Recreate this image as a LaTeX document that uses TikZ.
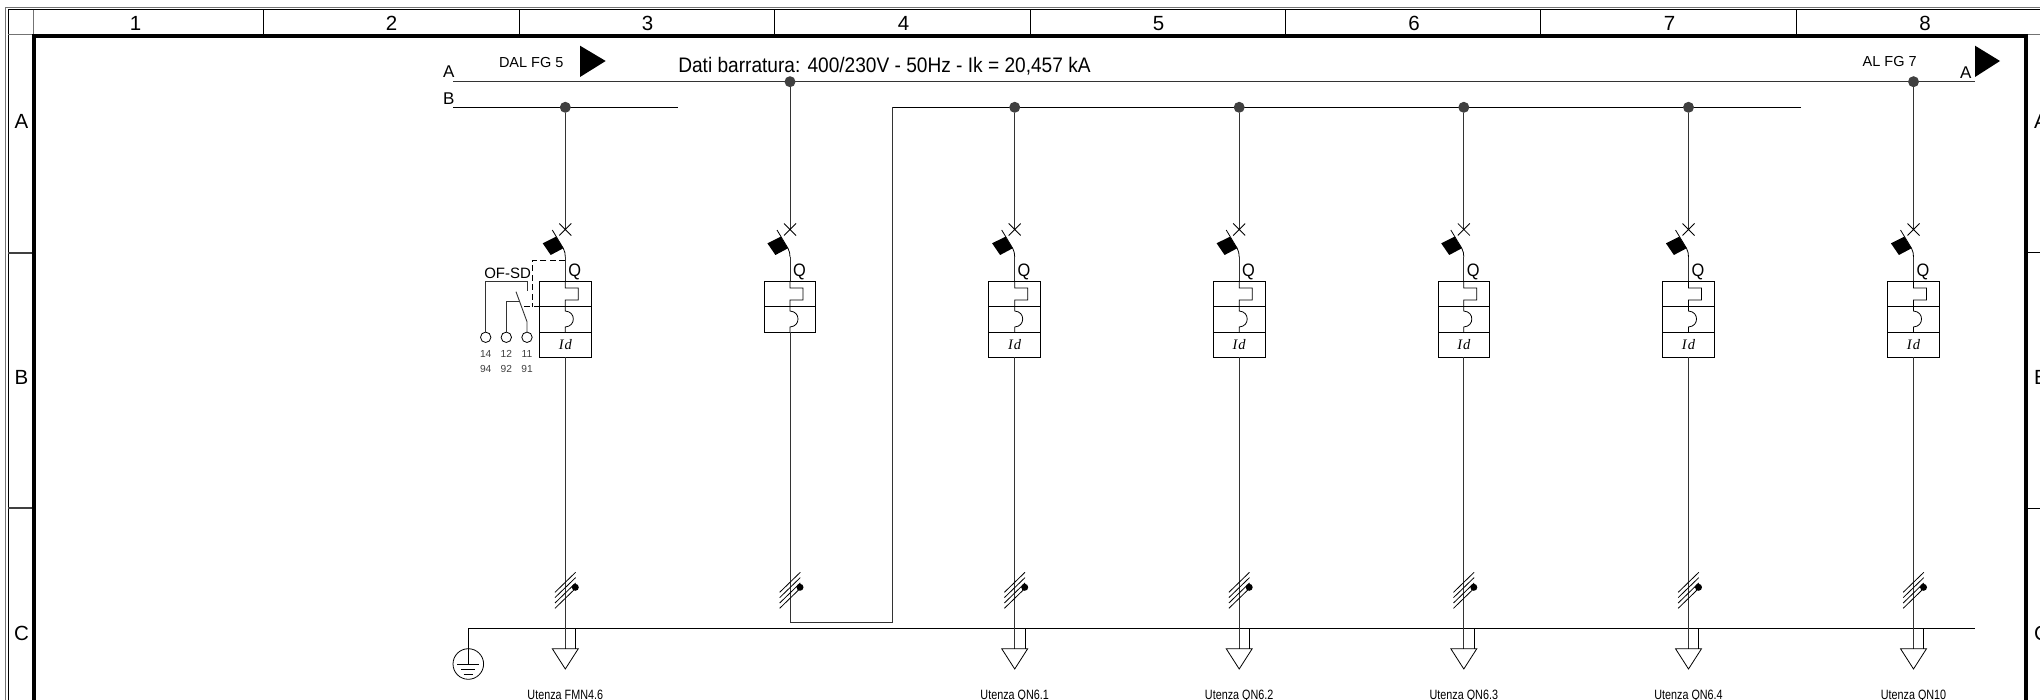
\documentclass[tikz,border=0pt]{standalone}
\usepackage{fontspec}
\setmainfont{Liberation Sans}
\newfontfamily\narrowf[FakeStretch=0.91]{Liberation Sans}
\newfontfamily\narrowu[FakeStretch=0.8]{Liberation Sans}
\newfontfamily\idf{Liberation Serif}
\newcommand{\fsz}[1]{\fontsize{#1}{#1}\selectfont}
\tikzset{
  wire/.style={draw=black!80,line width=0.9pt},
  thinw/.style={draw=black,line width=0.8pt},
  framew/.style={draw=black,line width=1pt},
  greyw/.style={draw=black!55,line width=1pt},
  rowtick/.style={draw=black!75,line width=1.8pt},
  busdot/.style={circle,fill=black!75,inner sep=0pt,minimum size=11pt,outer sep=0pt},
  bkbox/.style={rectangle,draw=black,line width=0.9pt,minimum width=51.6pt,inner sep=0pt,outer sep=0pt},
  termc/.style={circle,draw=black,line width=0.8pt,fill=white,minimum size=10.4pt,inner sep=0pt,outer sep=0pt},
  lbl/.style={inner sep=0pt,outer sep=0pt,anchor=base},
  lblw/.style={inner sep=0pt,outer sep=0pt,anchor=base west},
  hdr/.style={lbl,font=\fsz{20.5}},
  bus/.style={lblw,font=\fsz{17}},
  small/.style={lbl,font=\fsz{10.2},text=black!75},
  util/.style={lbl,font=\narrowu\fsz{13.5}},
}
\newcommand{\breaker}[4]{% id, x, bus y, box height
\begin{scope}[shift={(#2,0)}]
  \node[busdot] (dot#1) at (0,#3) {};
  \coordinate (xm#1) at (0,229.5);
  \coordinate (ct#1) at (0,257);
  \draw[wire] (dot#1) -- (xm#1);
  \draw[thinw] (-6,223.5) -- (6,235.5) (-6,235.5) -- (6,223.5);
  \fill[black] (-22.6,243.3) -- (-9.3,236.7) -- (-2,248.3) -- (-14.6,255) -- cycle;
  \draw[thinw] (-13,230) -- (-2,248.3) .. controls (-0.5,251) and (0,254) .. (ct#1);
  \node[lblw,font=\narrowf\fsz{18}] (q#1) at (3,277) {Q};
  \node[bkbox,minimum height=#4pt,anchor=north] (box#1) at (0,281) {};
  \draw[wire] (ct#1) -- (box#1.north);
  \draw[black,line width=1.4pt] (-25.8,306.7) -- (25.8,306.7);
  \draw[thinw] (box#1.north) -- (0,288) -- (13,288) -- (13,300) -- (0,300) -- (0,311)
     .. controls (5.5,311.5) and (8,315) .. (8,319) .. controls (8,323) and (5.5,326.5) .. (0,327) -- (0,332.3);
\end{scope}}
\newcommand{\idpart}[2]{% id, x
  \draw[thinw] (#2-25.8,332.3) -- (#2+25.8,332.3);
  \node[lbl,font=\idf\itshape\fsz{14.5}] (id#1) at (#2,349.3) {I\kern1pt d};
}
\newcommand{\ticks}[2]{% id, x
\begin{scope}[shift={(#2,0)}]
  \foreach \yy in {582.3,587.6,593,598.3}
    \draw[thinw] (-10.3,\yy+10) -- (10.3,\yy-10);
  \fill[black] (10,587.3) circle (3.5pt);
\end{scope}}
\newcommand{\load}[3]{% id, x, label
\begin{scope}[shift={(#2,0)}]
  \coordinate (lt#1) at (0,648.7);
  \coordinate (lr#1) at (10.3,648.7);
  \coordinate (ln#1) at (10.3,628.3);
  \draw[wire] (box#1.south) -- (lt#1);
  \draw[thinw] (ln#1) -- (lr#1);
  \draw[thinw,line join=miter] (-13,648.7) -- (13,648.7) -- (0,669) -- cycle;
  \node[util] (u#1) at (0,699) {#3};
\end{scope}}
\begin{document}
\begin{tikzpicture}[x=1pt,y=-1pt]
\clip (0,0) rectangle (2040,700);
\path[fill=white] (0,0) rectangle (2040,700);
% sheet frame
\draw[greyw] (5.5,700) -- (5.5,7.5) -- (2040,7.5);
\draw[framew] (8.3,700) -- (8.3,10) -- (2040,10);
\draw[greyw] (8.3,35) -- (33.5,35);
\draw[greyw] (2027,35) -- (2040,35);
\draw[greyw] (33.5,10) -- (33.5,35);
\foreach \xx in {263.5,519.3,774.6,1030,1285.3,1540.8,1796.3}
  \draw[framew] (\xx,10) -- (\xx,35);
\draw[rowtick] (8.3,252.7) -- (33.5,252.7);
\draw[rowtick] (8.3,508) -- (33.5,508);
\draw[framew] (2027,252.7) -- (2040,252.7);
\draw[framew] (2027,508) -- (2040,508);
\draw[black,line width=4.4pt] (34,700) -- (34,36) -- (2026,36) -- (2026,700);
% grid labels
\foreach \cc/\xx in {1/135.5,2/391.5,3/647.5,4/903.5,5/1158.5,6/1414,7/1669.5,8/1925}
  \node[hdr] (col\cc) at (\xx,30.7) {\cc};
\foreach \rr/\yy in {A/129,B/384.5,C/640}
  \node[hdr] (rowl\rr) at (21.5,\yy) {\rr};
\foreach \rr/\yy in {A/129,B/384.5,C/640}
  \node[lblw,font=\fsz{20.5}] (rowr\rr) at (2034,\yy) {\rr};
% busbars
\coordinate (aw) at (453,81.7);
\coordinate (ae) at (1975,81.7);
\coordinate (bw) at (453,107.3);
\coordinate (be) at (678,107.3);
\coordinate (cw) at (1801,107.3);
\coordinate (cbend) at (892,107.3);
\coordinate (dbend) at (892,622.7);
\coordinate (ebend) at (790,622.7);
\coordinate (nw) at (468.3,628.3);
\coordinate (ne) at (1975,628.3);
\draw[wire] (aw) -- (ae);
\draw[thinw] (bw) -- (be);
\draw[thinw] (nw) -- (ne);
\draw[thinw] (cw) -- (cbend);
\draw[wire] (cbend) -- (dbend) -- (ebend);
\node[bus] (lA) at (443,78) {A};
\node[bus] (lB) at (443,105) {B};
\node[bus] (lA2) at (1960,78.5) {A};
\node[lblw,font=\fsz{14.5}] (dal) at (499,67.3) {DAL FG 5};
\node[lblw,font=\fsz{14.5}] (alfg) at (1862.7,66.7) {AL FG 7};
\fill[black] (580,45.7) -- (605.7,61) -- (580,77) -- cycle;
\fill[black] (1975,45.7) -- (2000,61) -- (1975,77) -- cycle;
\node[lblw,font=\narrowf\fsz{21}] (dati) at (678.3,72.3) {Dati barratura: 400/230V - 50Hz - Ik = 20,457 kA};
% feeders
\breaker{1}{565.3}{107.3}{76.3}
\breaker{2}{790}{81.7}{51.3}
\breaker{3}{1014.7}{107.3}{76.3}
\breaker{4}{1239.2}{107.3}{76.3}
\breaker{5}{1463.8}{107.3}{76.3}
\breaker{6}{1688.5}{107.3}{76.3}
\breaker{7}{1913.5}{81.7}{76.3}
\idpart{1}{565.3}
\idpart{3}{1014.7}
\idpart{4}{1239.2}
\idpart{5}{1463.8}
\idpart{6}{1688.5}
\idpart{7}{1913.5}
\draw[wire] (box2.south) -- (ebend);
\load{1}{565.3}{Utenza FMN4.6}
\load{3}{1014.7}{Utenza QN6.1}
\load{4}{1239.2}{Utenza QN6.2}
\load{5}{1463.8}{Utenza QN6.3}
\load{6}{1688.5}{Utenza QN6.4}
\load{7}{1913.5}{Utenza QN10}
\ticks{1}{565.3}
\ticks{2}{790}
\ticks{3}{1014.7}
\ticks{4}{1239.2}
\ticks{5}{1463.8}
\ticks{6}{1688.5}
\ticks{7}{1913.5}
% earth
\node[circle,draw=black,line width=0.8pt,minimum size=30.6pt,inner sep=0pt] (earth) at (468.3,664) {};
\coordinate (ec) at (468.3,664);
\draw[thinw] (nw) -- (ec);
\draw[thinw] (457.3,664) -- (479.3,664) (461.3,669) -- (475.3,669) (463.6,674) -- (473,674);
% auxiliary contact OF-SD
\node[lblw,font=\fsz{15}] (ofsd) at (484.3,279) {OF-SD};
\node[termc] (t14) at (485.7,337.3) {};
\node[termc] (t12) at (506.3,337.3) {};
\node[termc] (t11) at (527,337.3) {};
\coordinate (p14a) at (485.7,281);
\coordinate (p14b) at (527,281);
\coordinate (p14c) at (527,291);
\coordinate (p12a) at (506.3,301.3);
\coordinate (p12b) at (519,301.3);
\coordinate (p11a) at (527,321.7);
\coordinate (p11b) at (516,291.7);
\draw[wire] (t14) -- (p14a) -- (p14b) -- (p14c);
\draw[wire] (t12) -- (p12a) -- (p12b);
\draw[wire] (t11) -- (p11a) -- (p11b);
\coordinate (d2) at (532,260.7);
\coordinate (d3) at (532,306.7);
\coordinate (d4) at (521.7,306.7);
\coordinate (d5) at (565.3,260.7);
\draw[thinw,dash pattern=on 6pt off 3.5pt] (box1.west |- d3) -- (d4);
\draw[thinw,dash pattern=on 6pt off 3.5pt] (d5) -- (d2) -- (d3);
\foreach \n/\a/\b/\xx in {a/14/94/485.7,b/12/92/506.3,c/11/91/527} {
  \node[small] (n1\n) at (\xx,357.7) {\a};
  \node[small] (n2\n) at (\xx,373) {\b};
}
\end{tikzpicture}
\end{document}
